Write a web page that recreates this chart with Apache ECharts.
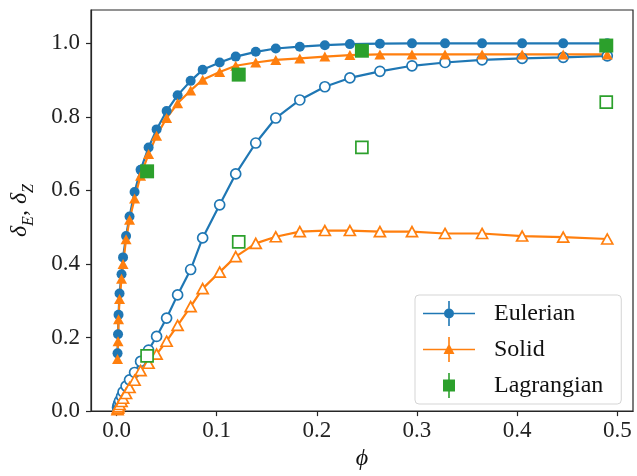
<!DOCTYPE html>
<html>
<head>
<meta charset="utf-8">
<script src="https://cdn.jsdelivr.net/npm/echarts@6.0.0/dist/echarts.min.js"></script>
<style>
  html, body { margin: 0; padding: 0; background: #fff; }
  #chart { width: 637px; height: 476px; }
</style>
</head>
<body>
<div id="chart"></div>
<script>
// volume fraction grid (shared by the Eulerian / Solid curves)
const phi = [0.001, 0.0015, 0.002, 0.003, 0.005, 0.0065, 0.0095, 0.013, 0.018, 0.024,
  0.032, 0.040, 0.050, 0.061, 0.074, 0.086, 0.103, 0.119, 0.139, 0.159,
  0.183, 0.208, 0.233, 0.263, 0.295, 0.328, 0.365, 0.405, 0.446, 0.490];

// filled markers (delta_E) and open markers (delta_Z)
const eulerFilled = [0.157, 0.209, 0.262, 0.320, 0.372, 0.418, 0.476, 0.529, 0.596, 0.656,
  0.717, 0.766, 0.816, 0.859, 0.898, 0.928, 0.948, 0.964, 0.977, 0.986,
  0.991, 0.995, 0.998, 0.999, 1.0, 1.0, 1.0, 1.0, 1.0, 1.0];
const eulerOpen = [0.010, 0.015, 0.020, 0.028, 0.040, 0.052, 0.068, 0.085, 0.105, 0.135,
  0.166, 0.203, 0.253, 0.316, 0.385, 0.471, 0.561, 0.645, 0.729, 0.797,
  0.846, 0.882, 0.906, 0.924, 0.939, 0.948, 0.955, 0.959, 0.962, 0.966];
const solidFilled = [0.142, 0.190, 0.250, 0.305, 0.360, 0.400, 0.467, 0.520, 0.578, 0.640,
  0.699, 0.749, 0.797, 0.837, 0.872, 0.901, 0.922, 0.939, 0.948, 0.955,
  0.959, 0.964, 0.968, 0.970, 0.970, 0.970, 0.970, 0.970, 0.970, 0.970];
const solidOpen = [0.004, 0.008, 0.012, 0.018, 0.026, 0.035, 0.048, 0.064, 0.084, 0.110,
  0.130, 0.155, 0.190, 0.233, 0.284, 0.333, 0.378, 0.420, 0.456, 0.474,
  0.488, 0.491, 0.491, 0.488, 0.488, 0.483, 0.483, 0.476, 0.473, 0.468];

// Lagrangian points
const lagPhi = [0.0305, 0.122, 0.245, 0.489];
const lagFilled = [0.652, 0.915, 0.980, 0.994];
const lagOpen = [0.150, 0.460, 0.717, 0.840];

const xTicks = [0, 0.1, 0.2, 0.3, 0.4, 0.5];
const yTicks = [0, 0.2, 0.4, 0.6, 0.8, 1.0];

const BLUE = '#1f77b4', ORANGE = '#ff7f0e', GREEN = '#2ca02c';
const serif = '"Liberation Serif", "DejaVu Serif", serif';

const pairs = (xs, ys) => xs.map((x, i) => [x, ys[i]]);

function curve(name, xs, ys, color, symbol, size, open) {
  return {
    name: name,
    type: 'line',
    data: pairs(xs, ys),
    symbol: symbol,
    symbolSize: size,
    showSymbol: true,
    showAllSymbol: true,
    lineStyle: { color: color, width: 2.2 },
    itemStyle: open
      ? { color: '#fff', borderColor: color, borderWidth: 1.7, opacity: 1 }
      : { color: color, borderWidth: 0, opacity: 1 },
    emphasis: { disabled: true }
  };
}

function dots(name, xs, ys, open) {
  return {
    name: name,
    type: 'scatter',
    data: pairs(xs, ys),
    symbol: 'rect',
    symbolSize: open ? 12 : 14,
    itemStyle: open
      ? { color: '#fff', borderColor: GREEN, borderWidth: 1.7, opacity: 1 }
      : { color: GREEN, opacity: 1 },
    emphasis: { disabled: true },
    z: 3
  };
}

// legend icons: line + errorbar + marker
const iconCircle = 'path://M0,11.7H52V13.3H0Z M25.2,0H26.8V25H25.2Z M21,12.5A5,5 0 1 1 31,12.5A5,5 0 1 1 21,12.5Z';
const iconTri = 'path://M0,11.7H52V13.3H0Z M25.2,0H26.8V25H25.2Z M26,6.5L31.5,17H20.5Z';
const iconSq = 'path://M25.2,0H26.8V25H25.2Z M20,6.5H32V18.5H20Z';

const axisColor = '#262626';

const chart = echarts.init(document.getElementById('chart'));

chart.setOption({
  animation: false,
  backgroundColor: '#fff',
  grid: {
    left: 83, right: 4, top: 10, bottom: 57,
    show: true, borderColor: axisColor, borderWidth: 1.2, backgroundColor: 'transparent'
  },
  legend: {
    orient: 'vertical',
    left: 415, top: 295,
    padding: [6, 18, 6, 8],
    itemWidth: 52, itemHeight: 25, itemGap: 11,
    backgroundColor: 'rgba(255,255,255,0.8)',
    borderColor: '#d5d5d5', borderWidth: 1, borderRadius: 4,
    itemStyle: { borderWidth: 0 },
    textStyle: { fontFamily: serif, fontSize: 24, color: '#111', padding: [0, 0, 0, 14] },
    data: [
      { name: 'Eulerian', icon: iconCircle },
      { name: 'Solid', icon: iconTri },
      { name: 'Lagrangian', icon: iconSq }
    ],
    selectedMode: false
  },
  xAxis: {
    type: 'value',
    min: -0.0255, max: 0.5157,
    name: 'ϕ',
    nameLocation: 'middle',
    nameGap: 34,
    nameTextStyle: { fontFamily: serif, fontSize: 24, fontStyle: 'italic', color: '#111' },
    axisLine: { show: true, onZero: false, lineStyle: { color: axisColor, width: 1.2 } },
    axisTick: { show: true, length: 5, customValues: xTicks, lineStyle: { color: axisColor, width: 1.2 } },
    axisLabel: {
      customValues: xTicks, margin: 8,
      fontFamily: serif, fontSize: 23, color: '#222',
      formatter: v => v.toFixed(1)
    },
    splitLine: { show: false }
  },
  yAxis: {
    type: 'value',
    min: 0, max: 1.0907,
    name: '{d|δ}{s|E}{c|, }{d|δ}{s|Z}',
    nameLocation: 'middle',
    nameRotate: 90,
    nameGap: 54,
    nameTextStyle: {
      color: '#111',
      rich: {
        d: { fontFamily: serif, fontSize: 24, fontStyle: 'italic', color: '#111', verticalAlign: 'bottom', padding: [0, 0, 5, 0] },
        s: { fontFamily: serif, fontSize: 16, fontStyle: 'italic', color: '#111', verticalAlign: 'bottom' },
        c: { fontFamily: serif, fontSize: 24, color: '#111', verticalAlign: 'bottom', padding: [0, 0, 5, 0] }
      }
    },
    axisLine: { show: true, onZero: false, lineStyle: { color: axisColor, width: 1.2 } },
    axisTick: { show: true, length: 5, customValues: yTicks, lineStyle: { color: axisColor, width: 1.2 } },
    axisLabel: {
      customValues: yTicks, margin: 11,
      fontFamily: serif, fontSize: 23, color: '#222',
      formatter: v => v.toFixed(1)
    },
    splitLine: { show: false }
  },
  series: [
    curve('Eulerian', phi, eulerFilled, BLUE, 'circle', 10, false),
    curve('Eulerian (Z)', phi, eulerOpen, BLUE, 'circle', 10, true),
    curve('Solid', phi, solidFilled, ORANGE, 'triangle', [11, 10], false),
    curve('Solid (Z)', phi, solidOpen, ORANGE, 'triangle', [11, 10], true),
    dots('Lagrangian', lagPhi, lagFilled, false),
    dots('Lagrangian (Z)', lagPhi, lagOpen, true)
  ]
});
</script>
</body>
</html>
